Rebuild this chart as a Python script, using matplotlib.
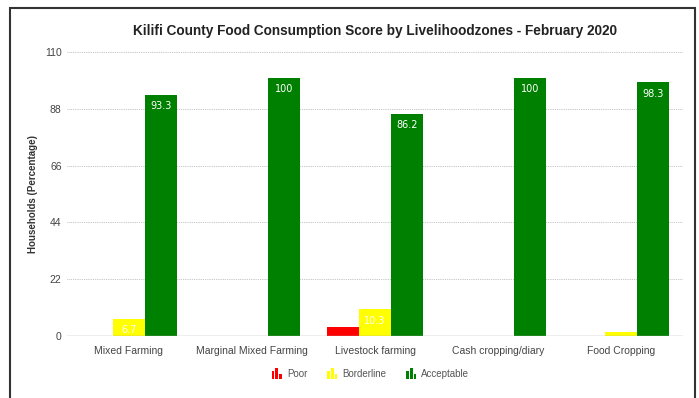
import numpy as np
import matplotlib.pyplot as plt
from matplotlib.patches import Rectangle
from matplotlib.legend_handler import HandlerBase

plt.rcParams['font.family'] = ['Liberation Sans', 'DejaVu Sans']

zones = ['Mixed Farming', 'Marginal Mixed Farming', 'Livestock farming',
         'Cash cropping/diary', 'Food Cropping']
poor = [0, 0, 3.5, 0, 0]
borderline = [6.7, 0, 10.3, 0, 1.7]
acceptable = [93.3, 100, 86.2, 100, 98.3]
yticks = [0, 22, 44, 66, 88, 110]

series = [('Poor', poor, '#ff0000'),
          ('Borderline', borderline, '#ffff00'),
          ('Acceptable', acceptable, '#008000')]


class BarIcon(HandlerBase):
    # small three-bar glyph used as the legend key
    def create_artists(self, legend, orig_handle, xdescent, ydescent,
                       width, height, fontsize, trans):
        c = orig_handle.get_facecolor()
        w = width / 3.6
        hs = [0.8, 1.15, 0.5]
        arts = []
        for i, h in enumerate(hs):
            r = Rectangle((i * (w + 0.9), -ydescent - 1),
                          w, height * h * 1.2, facecolor=c, edgecolor='none',
                          transform=trans)
            arts.append(r)
        return arts


fg = plt.figure(figsize=(6.99, 3.98), dpi=100)
ax = fg.add_axes([0.096, 0.156, 0.881, 0.713])

x = np.arange(len(zones))
bw = 0.26
handles = []
for i, (name, vals, col) in enumerate(series):
    bars = ax.bar(x + (i - 1) * bw, vals, bw, color=col, label=name, zorder=3)
    handles.append(bars.patches[0])
    for b, v in zip(bars.patches, vals):
        if v >= 5:
            ax.text(b.get_x() + b.get_width() / 2, v - 2.4, f'{v:g}',
                    ha='center', va='top', color='white', fontsize=7,
                    family='DejaVu Sans', zorder=4)

ax.set_xlim(-0.5, len(zones) - 0.5)
ax.set_ylim(0, 110)
ax.set_yticks(yticks)
ax.set_xticks(x)
ax.set_xticklabels(zones, fontsize=7.5, color='#333333')
ax.tick_params(axis='both', length=0, labelsize=7.5, colors='#444444')
ax.tick_params(axis='x', pad=7)
ax.tick_params(axis='y', pad=4)
for s in ax.spines.values():
    s.set_visible(False)
for t in yticks[1:]:
    ax.axhline(t, color='#b0b0b0', lw=0.6, ls=(0, (1, 1.2)), zorder=1)
ax.axhline(0, color='#aaaaaa', lw=1.0, zorder=5)

ax.set_ylabel('Households (Percentage)', fontsize=7, fontweight='bold',
              color='#333333', labelpad=5)
ax.set_title('Kilifi County Food Consumption Score by Livelihoodzones - February 2020',
             fontsize=9.8, fontweight='bold', color='#222222', pad=12)

leg = fg.legend(handles, [s[0] for s in series], loc='center',
                bbox_to_anchor=(0.53, 0.06), ncol=3, frameon=False,
                fontsize=7, handler_map={h: BarIcon() for h in handles},
                handlelength=1.0, handleheight=0.9, columnspacing=2.0,
                handletextpad=0.6)
for t in leg.get_texts():
    t.set_color('#555555')

# outer frame around the chart
fg.patches.append(Rectangle((10 / 699, -0.05), 685 / 699, 1 - 8 / 398 + 0.05,
                            transform=fg.transFigure, fill=False,
                            edgecolor='#333333', lw=1.5))

fg.savefig('out.png', dpi=100)
